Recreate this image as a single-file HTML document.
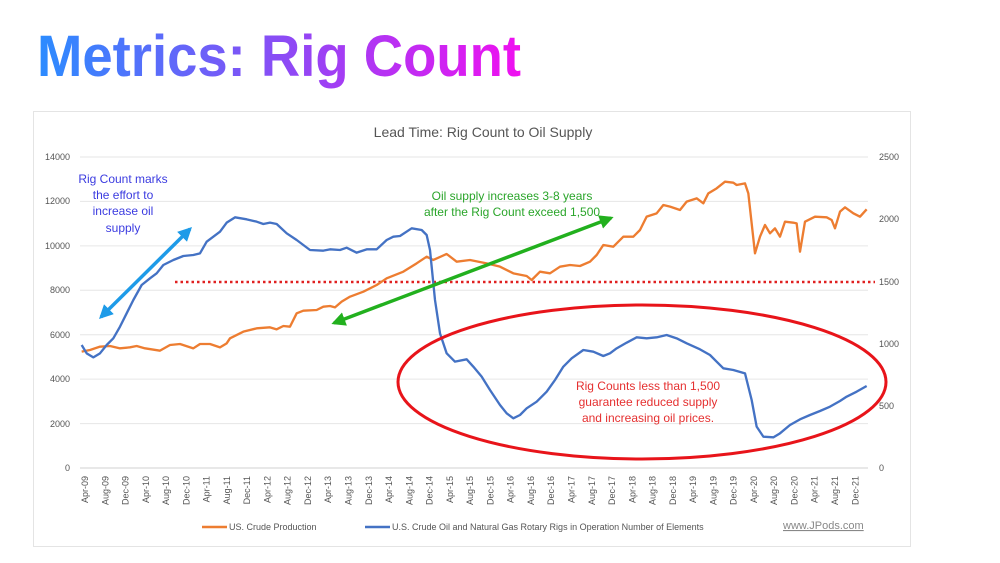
<!DOCTYPE html>
<html><head><meta charset="utf-8"><style>
html,body{margin:0;padding:0;background:#fff;width:1000px;height:563px;overflow:hidden}
svg{display:block;font-family:"Liberation Sans",sans-serif}
</style></head><body>
<svg width="1000" height="563" viewBox="0 0 1000 563">
<defs>
<linearGradient id="tg" x1="37" y1="0" x2="522" y2="0" gradientUnits="userSpaceOnUse">
<stop offset="0" stop-color="#2b8cff"/><stop offset="0.5" stop-color="#8a4cf5"/><stop offset="1" stop-color="#f010f0"/></linearGradient>
<marker id="ab" viewBox="0 0 10 10" refX="8" refY="5" markerWidth="4" markerHeight="4" orient="auto-start-reverse"><path d="M0,0L10,5L0,10z" fill="#1e9be8"/></marker>
<marker id="ag" viewBox="0 0 10 10" refX="8" refY="5" markerWidth="4" markerHeight="4" orient="auto-start-reverse"><path d="M0,0L10,5L0,10z" fill="#22b01e"/></marker>
</defs>
<text x="37" y="76" font-size="58" font-weight="bold" fill="url(#tg)" textLength="484" lengthAdjust="spacingAndGlyphs">Metrics: Rig Count</text>
<rect x="33.5" y="111.5" width="877" height="435" fill="#fff" stroke="#e4e4e4"/>
<text x="483" y="137" font-size="14" fill="#555" text-anchor="middle">Lead Time: Rig Count to Oil Supply</text>
<g stroke="#e6e6e6" stroke-width="1">
<line x1="80" y1="157" x2="868" y2="157"/><line x1="80" y1="201.4" x2="868" y2="201.4"/><line x1="80" y1="245.9" x2="868" y2="245.9"/><line x1="80" y1="290.3" x2="868" y2="290.3"/><line x1="80" y1="334.7" x2="868" y2="334.7"/><line x1="80" y1="379.1" x2="868" y2="379.1"/><line x1="80" y1="423.6" x2="868" y2="423.6"/><line x1="80" y1="468" x2="868" y2="468" stroke="#d0d0d0"/>
</g>
<g font-size="9" fill="#555" text-anchor="end">
<text x="70" y="160">14000</text><text x="70" y="204">12000</text><text x="70" y="249">10000</text><text x="70" y="293">8000</text><text x="70" y="338">6000</text><text x="70" y="382">4000</text><text x="70" y="427">2000</text><text x="70" y="471">0</text>
</g>
<g font-size="9" fill="#555">
<text x="879" y="160">2500</text><text x="879" y="222">2000</text><text x="879" y="285">1500</text><text x="879" y="347">1000</text><text x="879" y="409">500</text><text x="879" y="471">0</text>
</g>
<g font-size="9" fill="#555" text-anchor="end" id="xl"></g>
<line x1="175" y1="282" x2="875" y2="282" stroke="#e02020" stroke-width="2.5" stroke-dasharray="2.5,3"/>
<polyline fill="none" stroke-linejoin="round" stroke="#ed7d31" transform="translate(30,100) scale(0.33333)" stroke-width="7" points="155,755 180,750 210,740 240,738 270,745 300,742 320,738 345,745 390,752 420,735 450,732 490,745 510,732 540,732 570,742 590,730 600,715 640,695 680,685 720,682 740,688 760,678 780,680 800,640 820,632 860,630 880,620 900,618 915,622 935,605 960,590 1000,575 1040,555 1070,535 1120,515 1160,490 1190,470 1210,480 1250,462 1280,485 1320,480 1370,490 1410,500 1450,520 1490,528 1505,540 1530,515 1560,520 1590,500 1620,495 1650,498 1680,485 1700,465 1720,435 1750,440 1780,410 1810,410 1830,390 1850,350 1880,340 1900,315 1920,320 1950,330 1970,305 2000,295 2020,310 2035,280 2060,265 2085,245 2110,248 2120,255 2145,250 2155,280 2175,460 2190,410 2205,375 2220,400 2235,385 2250,410 2265,365 2290,368 2300,370 2310,455 2325,365 2355,350 2390,352 2405,360 2415,385 2430,335 2445,322 2470,340 2490,350 2510,328"/>
<polyline fill="none" stroke-linejoin="round" stroke="#4472c4" transform="translate(30,100) scale(0.33333)" stroke-width="7" points="155,735 170,760 190,772 210,760 230,735 250,715 270,680 290,640 310,600 335,555 360,535 380,520 400,495 430,480 460,468 490,465 510,460 530,425 550,410 570,395 590,368 615,352 650,358 680,365 700,372 720,368 740,372 770,400 800,420 840,450 880,452 900,448 930,450 950,443 980,458 1010,448 1040,448 1070,420 1090,410 1110,408 1145,385 1175,390 1190,405 1200,450 1215,600 1230,700 1250,760 1275,785 1310,778 1330,800 1355,830 1380,870 1410,915 1430,940 1450,955 1470,945 1490,925 1520,905 1550,875 1575,840 1600,800 1625,775 1660,750 1690,755 1720,768 1740,760 1760,745 1790,728 1820,712 1850,715 1880,712 1910,705 1940,715 1970,730 2010,748 2040,765 2060,785 2080,805 2110,810 2145,820 2165,900 2180,980 2200,1010 2230,1012 2250,1000 2280,975 2310,958 2340,945 2370,933 2400,920 2430,903 2450,890 2480,875 2510,858"/>
<ellipse cx="642" cy="382" rx="244" ry="77" fill="none" stroke="#e8141a" stroke-width="3"/>
<line x1="101" y1="317" x2="190" y2="229" stroke="#1e9be8" stroke-width="3.5" marker-start="url(#ab)" marker-end="url(#ab)"/>
<line x1="334" y1="323" x2="611" y2="218" stroke="#22b01e" stroke-width="3.5" marker-start="url(#ag)" marker-end="url(#ag)"/>
<g font-size="12" fill="#3b3be0" text-anchor="middle">
<text x="123" y="183">Rig Count marks</text><text x="123" y="199">the effort to</text><text x="123" y="215">increase oil</text><text x="123" y="232">supply</text>
</g>
<g font-size="12" fill="#2aa52a" text-anchor="middle">
<text x="512" y="200">Oil supply increases 3-8 years</text><text x="512" y="216">after the Rig Count exceed 1,500</text>
</g>
<g font-size="12" fill="#e53030" text-anchor="middle">
<text x="648" y="390">Rig Counts less than 1,500</text><text x="648" y="406">guarantee reduced supply</text><text x="648" y="422">and increasing oil prices.</text>
</g>
<line x1="202" y1="527" x2="227" y2="527" stroke="#ed7d31" stroke-width="2.5"/>
<text x="229" y="530" font-size="9" fill="#555">US. Crude Production</text>
<line x1="365" y1="527" x2="390" y2="527" stroke="#4472c4" stroke-width="2.5"/>
<text x="392" y="530" font-size="9" fill="#555">U.S. Crude Oil and Natural Gas Rotary Rigs in Operation  Number of Elements</text>
<text x="783" y="529" font-size="11" fill="#888" text-decoration="underline">www.JPods.com</text>
</svg>
<script>
var m=["Apr","Aug","Dec"],g=document.getElementById("xl"),s="";
for(var i=0;i<39;i++){var yr=9+Math.floor(i/3);var lab=m[i%3]+"-"+(yr<10?"0"+yr:yr);var x=85+i*20.27;
s+='<text transform="translate('+(x+3)+',476) rotate(-90)">'+lab+'</text>';}
g.innerHTML=s;
</script>
</body></html>
